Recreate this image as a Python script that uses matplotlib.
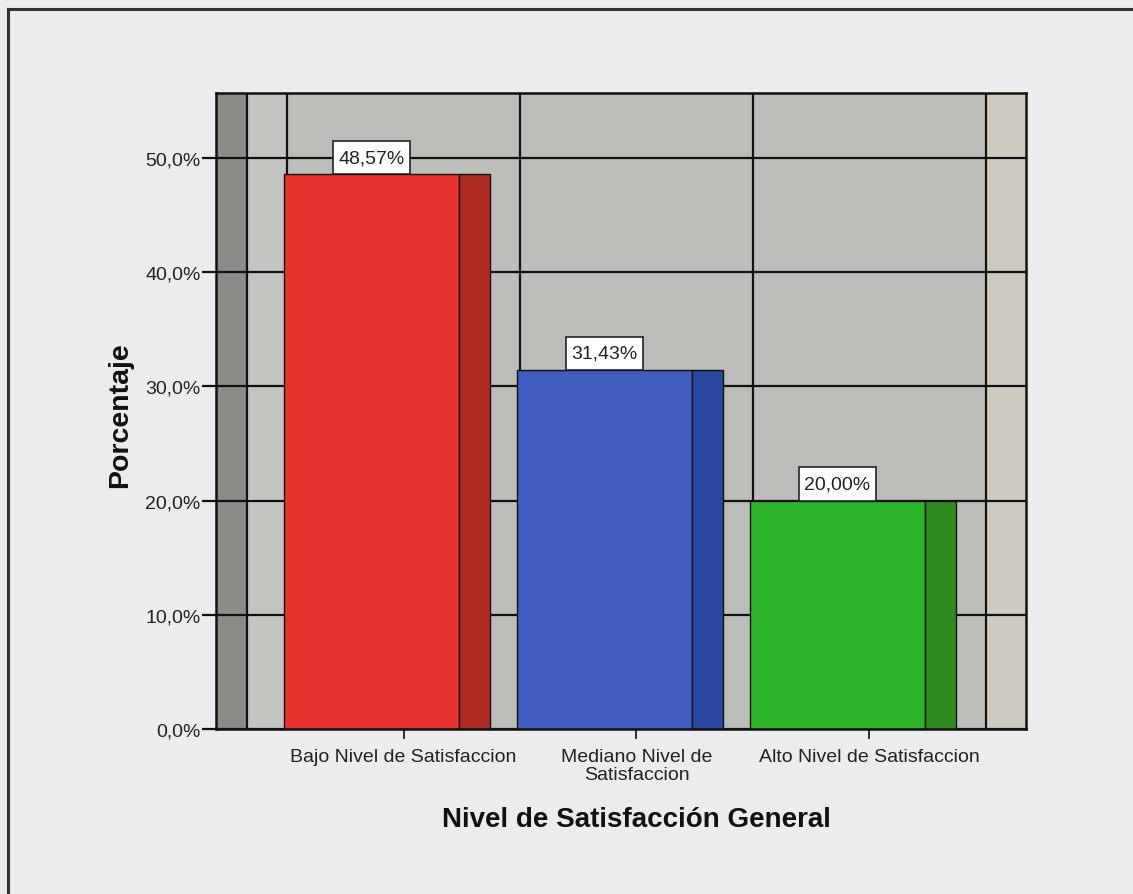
import matplotlib
matplotlib.use("Agg")
import matplotlib.pyplot as plt
from matplotlib.lines import Line2D
from matplotlib.path import Path

# Data
categories = ["Bajo Nivel de Satisfaccion",
              "Mediano Nivel de\nSatisfaccion",
              "Alto Nivel de Satisfaccion"]
percentages = [48.57, 31.43, 20.00]
value_labels = ["48,57%", "31,43%", "20,00%"]
y_ticks = [0, 10, 20, 30, 40, 50]
y_tick_labels = ["0,0%", "10,0%", "20,0%", "30,0%", "40,0%", "50,0%"]

front_colors = ["#e8322f", "#3f5ec0", "#2db42a"]
side_colors = ["#ad2a22", "#2a479f", "#2f8a22"]

plt.rcParams["font.family"] = ["Liberation Sans", "DejaVu Sans"]

W, H, DPI = 1133, 895, 100
fig = plt.figure(figsize=(W / DPI, H / DPI), dpi=DPI)
fig.patch.set_facecolor("#ecebee")

# page frame around the chart
fig.add_artist(Line2D([8 / W, 8 / W], [0, 1 - 10 / H], transform=fig.transFigure,
                      color="#333333", lw=2.2))
fig.add_artist(Line2D([8 / W, 1], [1 - 10 / H, 1 - 10 / H], transform=fig.transFigure,
                      color="#333333", lw=2.2))

left, right, top, bottom = 216, 1026, 94, 730
ax = fig.add_axes([left / W, (H - bottom) / H, (right - left) / W, (bottom - top) / H])

xmin, xmax = -0.805, 2.672
ax.set_xlim(xmin, xmax)
ax.set_ylim(0, 55.7)

# walls of the pseudo-3D frame
wall_edge = -0.672
ax.axvspan(xmin, wall_edge, color="#8b8c88", zorder=0, lw=0)
ax.axvspan(wall_edge, -0.5, color="#c4c4c0", zorder=0, lw=0)
ax.axvspan(-0.5, 2.5, color="#bcbcb8", zorder=0, lw=0)
ax.axvspan(2.5, xmax, color="#cecac2", zorder=0, lw=0)

for xv in [wall_edge, -0.5, 0.5, 1.5, 2.5]:
    ax.axvline(xv, color="#111111", lw=1.6, zorder=1)
for yv in y_ticks:
    ax.axhline(yv, color="#111111", lw=1.6, zorder=1)

# bars: front face plus darker side face
front_w, side_w, front_off = 0.751, 0.133, -0.513
xs = list(range(len(categories)))
ax.bar([x + front_off for x in xs], percentages, width=front_w, align="edge",
       color=front_colors, edgecolor="#111111", lw=1.0, zorder=2)
ax.bar([x + front_off + front_w for x in xs], percentages, width=side_w, align="edge",
       color=side_colors, edgecolor="#111111", lw=1.0, zorder=2)

# rectangular label box with more vertical than horizontal padding
PAD_X, PAD_Y = 0.28, 0.42


def label_box(x0, y0, width, height, mutation_size):
    px, py = PAD_X * mutation_size, PAD_Y * mutation_size
    return Path([(x0 - px, y0 - py), (x0 + width + px, y0 - py),
                 (x0 + width + px, y0 + height + py), (x0 - px, y0 + height + py),
                 (x0 - px, y0 - py)], closed=True)


label_fs = 14
for x, v, lab in zip(xs, percentages, value_labels):
    ax.annotate(lab, xy=(x + front_off + front_w / 2, v), xytext=(0, PAD_Y * label_fs),
                textcoords="offset points", ha="center", va="bottom",
                fontsize=label_fs, color="#222222", zorder=4,
                bbox=dict(boxstyle=label_box, fc="white", ec="#222222", lw=1.2))

ax.set_yticks(y_ticks)
ax.set_yticklabels(y_tick_labels, fontsize=14, color="#222222")
ax.set_xticks(xs)
ax.set_xticklabels(categories, fontsize=14, color="#222222", linespacing=1.12)
ax.tick_params(axis="y", length=10, width=1.6, pad=1, color="#111111")
ax.tick_params(axis="x", length=7, width=1.2, pad=6.5, color="#111111")

for s in ax.spines.values():
    s.set_color("#111111")
    s.set_linewidth(1.8)

ax.set_ylabel("Porcentaje", fontsize=20.5, fontweight="bold", color="#111111")
ax.yaxis.set_label_coords(-0.1025, 0.495)
ax.set_xlabel("Nivel de Satisfacción General", fontsize=20, fontweight="bold",
              color="#111111")
ax.xaxis.set_label_coords(0.5185, -0.121)

fig.savefig("out.png", dpi=DPI, facecolor=fig.get_facecolor())
